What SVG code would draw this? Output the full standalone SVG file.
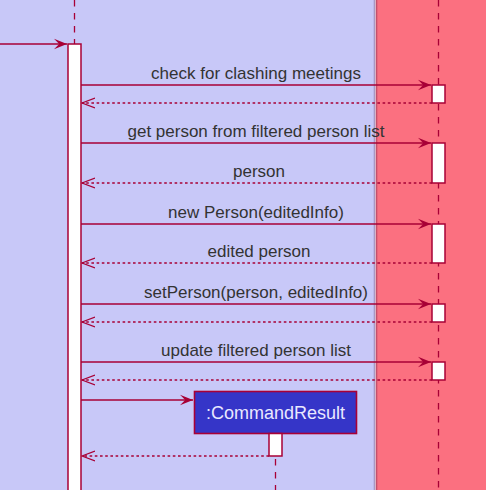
<svg xmlns="http://www.w3.org/2000/svg" width="486" height="490" viewBox="0 0 486 490">
<style>
.msg{stroke:#A80036;stroke-width:1.3;fill:none}
.ret{stroke:#A80036;stroke-width:1.3;fill:none;stroke-dasharray:2.6,2.6}
.life{stroke:#A80036;stroke-width:1.3;fill:none;stroke-dasharray:6.5,6.5}
.act{fill:#FFFFFF;stroke:#A80036;stroke-width:1.5}
.head{fill:#A80036;stroke:#A80036;stroke-width:1}
.lbl{font-family:"Liberation Sans",Arial,sans-serif;font-size:17px;fill:#333333;text-anchor:middle}
</style>
<defs>
<marker id="fh" viewBox="0 0 14 12" refX="13" refY="6" markerWidth="14" markerHeight="12" markerUnits="userSpaceOnUse" orient="auto">
<polygon points="0,0.8 13,6 0,11.2 5.2,6" fill="#A80036"/>
</marker>
<marker id="oh" viewBox="0 0 14 12" refX="13" refY="6" markerWidth="14" markerHeight="12" markerUnits="userSpaceOnUse" orient="auto">
<polyline points="0,1 13,6 0,11" fill="none" stroke="#A80036" stroke-width="1.3"/>
</marker>
</defs>
<g id="boxes">
<rect x="-5" y="-5" width="379.5" height="500" fill="#C8C8F8" stroke="#A898C4" stroke-width="1.6"/>
<rect x="376.5" y="-5" width="115" height="500" fill="#FB7080" stroke="#C4506C" stroke-width="1.6"/>
</g>
<g id="lifelines">
<line class="life" x1="74.5" y1="0" x2="74.5" y2="44"/>
<line class="life" x1="438.5" y1="0" x2="438.5" y2="490"/>
<line class="life" x1="275.5" y1="433" x2="275.5" y2="490"/>
</g>
<g id="logic">
<rect class="act" x="68" y="44" width="13" height="455"/>
</g>
<g id="model">
<rect class="act" x="432" y="85" width="13" height="18"/>
<rect class="act" x="432" y="143" width="13" height="40"/>
<rect class="act" x="432" y="224" width="13" height="39"/>
<rect class="act" x="432" y="304" width="13" height="18"/>
<rect class="act" x="432" y="362" width="13" height="18"/>
</g>
<g id="commandResult">
<rect x="194.5" y="391.5" width="162" height="42" fill="#3535C8" stroke="#A80036" stroke-width="1.6"/>
<text x="275.5" y="419" font-family="Liberation Sans,Arial,sans-serif" font-size="18" fill="#E8E8FF" text-anchor="middle">:CommandResult</text>
<rect class="act" x="269" y="433.5" width="13" height="22.5"/>
</g>
<g id="connectors">
<line class="msg" x1="0" y1="44" x2="67" y2="44" marker-end="url(#fh)"/>
<line class="msg" x1="81" y1="85" x2="431" y2="85" marker-end="url(#fh)"/>
<text class="lbl" x="256" y="79">check for clashing meetings</text>
<line class="ret" x1="432" y1="103" x2="82" y2="103" marker-end="url(#oh)"/>
<line class="msg" x1="81" y1="143" x2="431" y2="143" marker-end="url(#fh)"/>
<text class="lbl" x="256" y="137">get person from filtered person list</text>
<line class="ret" x1="432" y1="183" x2="82" y2="183" marker-end="url(#oh)"/>
<text class="lbl" x="259" y="177">person</text>
<line class="msg" x1="81" y1="224" x2="431" y2="224" marker-end="url(#fh)"/>
<text class="lbl" x="256" y="218">new Person(editedInfo)</text>
<line class="ret" x1="432" y1="263" x2="82" y2="263" marker-end="url(#oh)"/>
<text class="lbl" x="259" y="257">edited person</text>
<line class="msg" x1="81" y1="304" x2="431" y2="304" marker-end="url(#fh)"/>
<text class="lbl" x="256" y="298">setPerson(person, editedInfo)</text>
<line class="ret" x1="432" y1="322" x2="82" y2="322" marker-end="url(#oh)"/>
<line class="msg" x1="81" y1="362" x2="431" y2="362" marker-end="url(#fh)"/>
<text class="lbl" x="256" y="356">update filtered person list</text>
<line class="ret" x1="432" y1="380" x2="82" y2="380" marker-end="url(#oh)"/>
<line class="msg" x1="81" y1="400" x2="193" y2="400" marker-end="url(#fh)"/>
<line class="ret" x1="269" y1="456" x2="82" y2="456" marker-end="url(#oh)"/>
</g>
</svg>
